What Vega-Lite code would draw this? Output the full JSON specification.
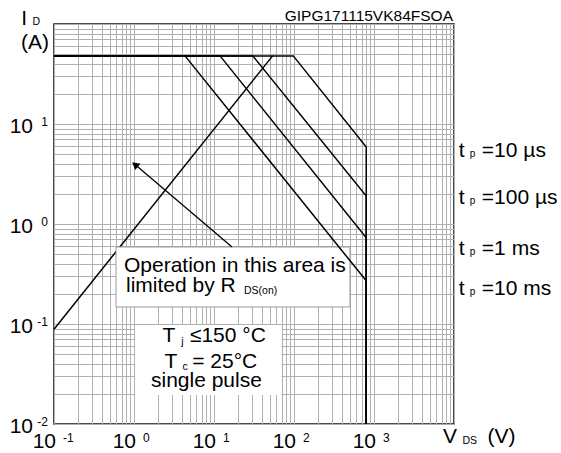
{
  "$schema": "https://vega.github.io/schema/vega-lite/v6.json",
  "width": 400,
  "height": 400,
  "autosize": "none",
  "padding": {"left": 54, "top": 24, "right": 107, "bottom": 29},
  "background": "#ffffff",
  "config": {
    "view": {"stroke": "#111111", "strokeWidth": 1.5},
    "text": {"font": "Liberation Sans", "color": "#000000"},
    "axis": {"grid": true, "gridColor": "#b0b0b0", "gridWidth": 1, "labels": false, "ticks": false, "domain": false, "title": null}
  },
  "datasets": {
    "curves": [
      {"s": "10us", "o": 0, "V": 0.1, "I": 48},
      {"s": "10us", "o": 1, "V": 98, "I": 48},
      {"s": "10us", "o": 2, "V": 800, "I": 5.9},
      {"s": "10us", "o": 3, "V": 800, "I": 0.01},
      {"s": "100us", "o": 0, "V": 0.1, "I": 48},
      {"s": "100us", "o": 1, "V": 30.5, "I": 48},
      {"s": "100us", "o": 2, "V": 800, "I": 1.9},
      {"s": "100us", "o": 3, "V": 800, "I": 0.01},
      {"s": "1ms", "o": 0, "V": 0.1, "I": 48},
      {"s": "1ms", "o": 1, "V": 11.9, "I": 48},
      {"s": "1ms", "o": 2, "V": 800, "I": 0.73},
      {"s": "1ms", "o": 3, "V": 800, "I": 0.01},
      {"s": "10ms", "o": 0, "V": 0.1, "I": 48},
      {"s": "10ms", "o": 1, "V": 4.34, "I": 48},
      {"s": "10ms", "o": 2, "V": 800, "I": 0.27},
      {"s": "10ms", "o": 3, "V": 800, "I": 0.01}
    ],
    "tp": [
      {"txt": "=10 µs", "V": 11500, "I": 4.64},
      {"txt": "=100 µs", "V": 11500, "I": 1.585},
      {"txt": "=1 ms", "V": 11500, "I": 0.49},
      {"txt": "=10 ms", "V": 11500, "I": 0.195}
    ],
    "big": [
      {"txt": "Operation in this area is", "V": 0.75, "I": 0.333},
      {"txt": "limited by R", "V": 0.794, "I": 0.21},
      {"txt": "T", "V": 2.27, "I": 0.0665},
      {"txt": "≤150 °C", "V": 5.0, "I": 0.0665},
      {"txt": "T", "V": 2.4, "I": 0.036},
      {"txt": "= 25°C", "V": 5.35, "I": 0.036},
      {"txt": "single pulse", "V": 1.63, "I": 0.0236},
      {"txt": "I", "V": 0.0391, "I": 97.7},
      {"txt": "(A)", "V": 0.0387, "I": 55.8},
      {"txt": "V", "V": 7290, "I": 0.00646},
      {"txt": "(V)", "V": 26240, "I": 0.00646}
    ],
    "sub": [
      {"txt": "DS(on)", "V": 23.7, "I": 0.1995},
      {"txt": "j", "V": 3.9, "I": 0.062},
      {"txt": "c", "V": 4.05, "I": 0.0347},
      {"txt": "D", "V": 0.0538, "I": 97.7},
      {"txt": "DS", "V": 12770, "I": 0.0063}
    ],
    "xt": [
      {"V": 0.1, "I": 0.01, "e": "-1"},
      {"V": 1, "I": 0.01, "e": "0"},
      {"V": 10, "I": 0.01, "e": "1"},
      {"V": 100, "I": 0.01, "e": "2"},
      {"V": 1000, "I": 0.01, "e": "3"}
    ],
    "yt": [
      {"V": 0.1, "I": 0.01, "e": "-2"},
      {"V": 0.1, "I": 0.1, "e": "-1"},
      {"V": 0.1, "I": 1, "e": "0"},
      {"V": 0.1, "I": 10, "e": "1"}
    ]
  },
  "encoding": {
    "x": {
      "field": "V", "type": "quantitative",
      "scale": {"type": "log", "domain": [0.1, 10000]},
      "axis": {"values": [0.1,0.2,0.3,0.4,0.5,0.6,0.7,0.8,0.9,1,2,3,4,5,6,7,8,9,10,20,30,40,50,60,70,80,90,100,200,300,400,500,600,700,800,900,1000,2000,3000,4000,5000,6000,7000,8000,9000,10000]}
    },
    "y": {
      "field": "I", "type": "quantitative",
      "scale": {"type": "log", "domain": [0.01, 100]},
      "axis": {"values": [0.01,0.02,0.03,0.04,0.05,0.06,0.07,0.08,0.09,0.1,0.2,0.3,0.4,0.5,0.6,0.7,0.8,0.9,1,2,3,4,5,6,7,8,9,10,20,30,40,50,60,70,80,90,100]}
    }
  },
  "layer": [
    {
      "data": {"values": [{"V": 0.1, "I": 0.0885}, {"V": 54, "I": 48}]},
      "mark": {"type": "line", "color": "#000000", "strokeWidth": 1.5},
      "encoding": {}
    },
    {
      "data": {"values": [{"V": 0.596, "V2": 501, "I": 0.589, "I2": 0.148}]},
      "mark": {"type": "rect", "fill": "#ffffff", "stroke": "#9a9a9a", "strokeWidth": 1},
      "encoding": {"x2": {"field": "V2"}, "y2": {"field": "I2"}}
    },
    {
      "data": {"values": [{"V": 1.03, "V2": 70.2, "I": 0.0977, "I2": 0.0195}]},
      "mark": {"type": "rect", "fill": "#ffffff", "strokeWidth": 0},
      "encoding": {"x2": {"field": "V2"}, "y2": {"field": "I2"}}
    },
    {
      "data": {"name": "curves"},
      "mark": {"type": "line", "color": "#000000", "strokeWidth": 1.5},
      "encoding": {"detail": {"field": "s"}, "order": {"field": "o", "type": "quantitative"}}
    },
    {
      "data": {"values": [{"V": 16.8, "I": 0.589}, {"V": 1.03, "I": 3.93}]},
      "mark": {"type": "line", "color": "#000000", "strokeWidth": 1.3},
      "encoding": {}
    },
    {
      "data": {"values": [{"V": 1.03, "I": 3.93}]},
      "mark": {"type": "point", "shape": "triangle-up", "filled": true, "color": "#000000", "opacity": 1, "size": 70, "angle": 310}
    },
    {
      "data": {"name": "big"},
      "mark": {"type": "text", "fontSize": 21, "align": "left", "baseline": "alphabetic"},
      "encoding": {"text": {"field": "txt"}}
    },
    {
      "data": {"name": "sub"},
      "mark": {"type": "text", "fontSize": 10.5, "align": "left", "baseline": "alphabetic"},
      "encoding": {"text": {"field": "txt"}}
    },
    {
      "data": {"values": [{"txt": "GIPG171115VK84FSOA", "V": 10000, "I": 107}]},
      "mark": {"type": "text", "fontSize": 15.5, "align": "right", "baseline": "alphabetic", "dx": -1},
      "encoding": {"text": {"field": "txt"}}
    },
    {
      "data": {"name": "tp"},
      "mark": {"type": "text", "fontSize": 21, "align": "left", "baseline": "alphabetic"},
      "encoding": {"text": {"value": "t"}}
    },
    {
      "data": {"name": "tp"},
      "mark": {"type": "text", "fontSize": 10, "align": "left", "baseline": "alphabetic", "dx": 11},
      "encoding": {"text": {"value": "p"}}
    },
    {
      "data": {"name": "tp"},
      "mark": {"type": "text", "fontSize": 21, "align": "left", "baseline": "alphabetic", "dx": 23},
      "encoding": {"text": {"field": "txt"}}
    },
    {
      "data": {"name": "xt"},
      "mark": {"type": "text", "fontSize": 21, "align": "right", "baseline": "alphabetic", "dx": 2, "dy": 24},
      "encoding": {"text": {"value": "10"}}
    },
    {
      "data": {"name": "xt"},
      "mark": {"type": "text", "fontSize": 12, "align": "left", "baseline": "alphabetic", "dx": 9, "dy": 17.5},
      "encoding": {"text": {"field": "e"}}
    },
    {
      "data": {"name": "yt"},
      "mark": {"type": "text", "fontSize": 21, "align": "right", "baseline": "alphabetic", "dx": -21, "dy": 8.5},
      "encoding": {"text": {"value": "10"}}
    },
    {
      "data": {"name": "yt"},
      "mark": {"type": "text", "fontSize": 12, "align": "right", "baseline": "alphabetic", "dx": -6, "dy": 1.5},
      "encoding": {"text": {"field": "e"}}
    }
  ]
}
